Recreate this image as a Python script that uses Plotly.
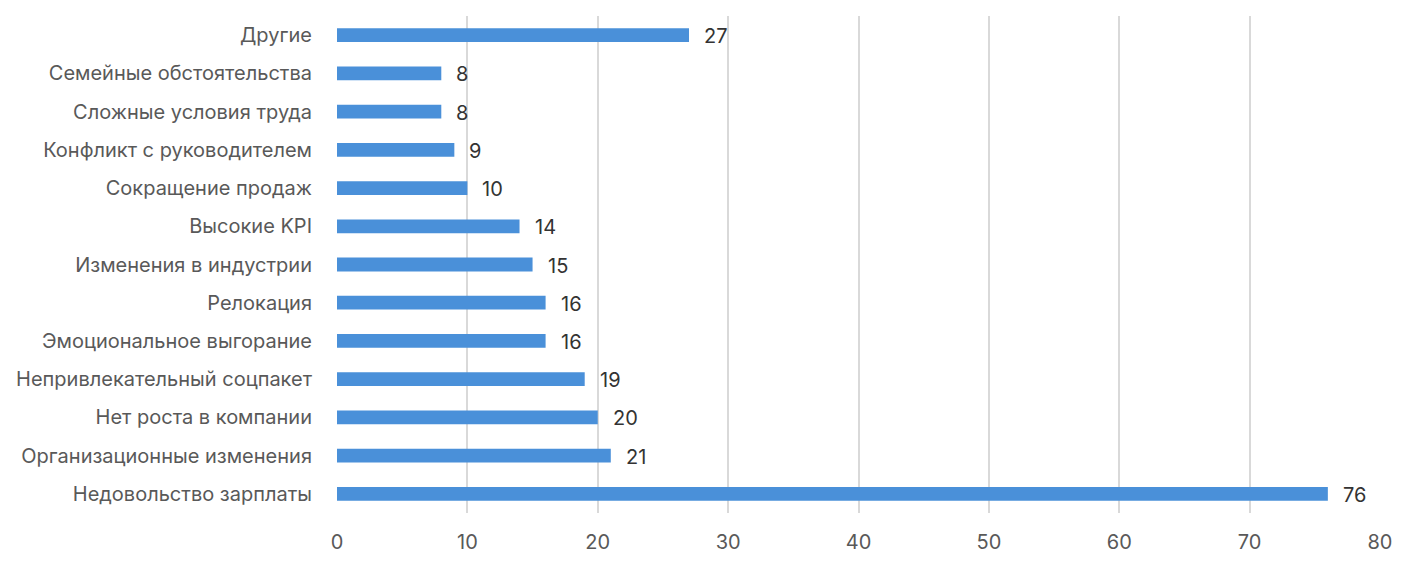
import plotly.graph_objects as go

categories = [
    "Недовольство зарплаты",
    "Организационные изменения",
    "Нет роста в компании",
    "Непривлекательный соцпакет",
    "Эмоциональное выгорание",
    "Релокация",
    "Изменения в индустрии",
    "Высокие KPI",
    "Сокращение продаж",
    "Конфликт с руководителем",
    "Сложные условия труда",
    "Семейные обстоятельства",
    "Другие",
]
values = [76, 21, 20, 19, 16, 16, 15, 14, 10, 9, 8, 8, 27]
x_ticks = [0, 10, 20, 30, 40, 50, 60, 70, 80]

FONT = "Inter, Roboto, sans-serif"

fig = go.Figure(go.Bar(
    x=values, y=categories, orientation="h",
    marker=dict(color="#4A90D9", line=dict(width=0)),
    width=0.36, hoverinfo="skip",
))

for v, c in zip(values, categories):
    fig.add_annotation(x=v, y=c, text=str(v), showarrow=False,
                       xanchor="left", yanchor="middle", xshift=13, yshift=-1,
                       font=dict(family=FONT, size=20, color="#333333"))

fig.update_layout(
    width=1410, height=568,
    margin=dict(l=324, r=38, t=8, b=63),
    plot_bgcolor="white", paper_bgcolor="white",
    showlegend=False,
    font=dict(family=FONT, size=20, color="#595959"),
    xaxis=dict(range=[0, 80], tickvals=x_ticks, showgrid=True,
               gridcolor="#D9D9D9", gridwidth=2, zeroline=False,
               showline=False, ticks="", ticklabelstandoff=15,
               tickfont=dict(family=FONT, size=20, color="#595959")),
    yaxis=dict(categoryorder="array", categoryarray=categories,
               range=[-0.5, 12.5], showgrid=False, zeroline=False,
               showline=False, ticks="", ticklabelstandoff=24,
               tickfont=dict(family=FONT, size=20, color="#595959")),
)

fig.write_html("out.html")
